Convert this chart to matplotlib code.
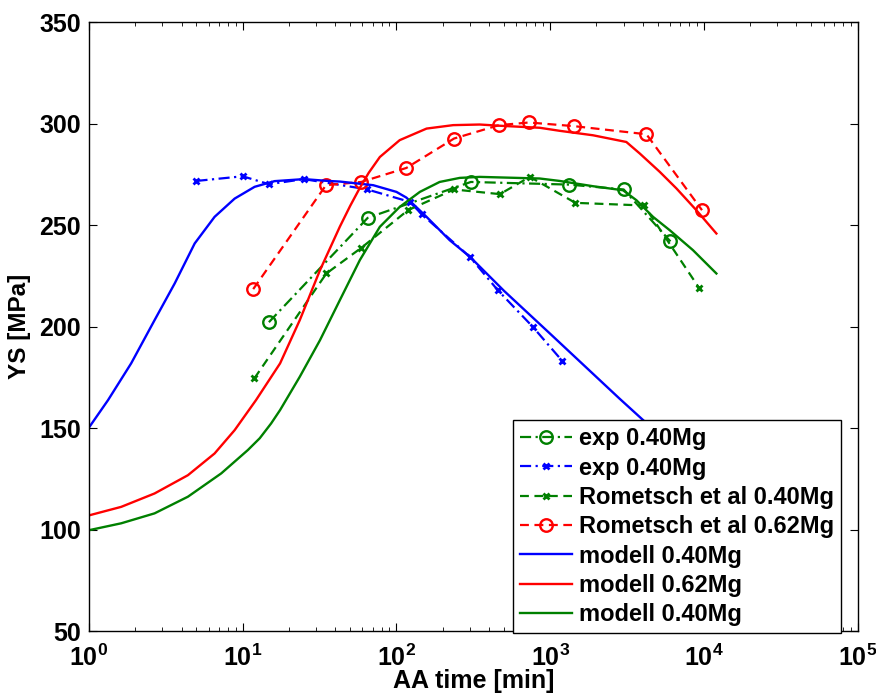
import numpy as np
import matplotlib
matplotlib.use('Agg')
import matplotlib.pyplot as plt

plt.rcParams['font.family'] = ['Liberation Sans', 'DejaVu Sans']
plt.rcParams['font.weight'] = 'bold'
plt.rcParams['mathtext.fontset'] = 'custom'
plt.rcParams['mathtext.rm'] = 'Liberation Sans:bold'
plt.rcParams['mathtext.bf'] = 'Liberation Sans:bold'
plt.rcParams['mathtext.it'] = 'Liberation Sans:bold'

# experimente
exp_gr_t = [14.8, 65, 305, 1327, 3008, 6058]
exp_gr_ys = [202.2, 253.6, 271.3, 270.0, 267.6, 242.0]

exp_bl_t = [5.0, 10, 14.8, 25, 64, 122, 146, 300, 456, 771, 1202]
exp_bl_ys = [271.8, 274.1, 270.2, 272.7, 267.7, 261.5, 255.4, 234.4, 218.0, 199.9, 183.0]

rom40_t = [11.9, 35, 59, 119, 237, 471, 738, 1459, 4080, 9360]
rom40_ys = [174.5, 226.2, 238.8, 257.4, 267.6, 265.3, 273.8, 261.0, 259.7, 218.8]

rom62_t = [11.7, 34.8, 59, 116, 237, 465, 729, 1430, 4230, 9720]
rom62_ys = [218.5, 269.7, 271.3, 278.2, 292.7, 299.3, 300.6, 298.8, 294.8, 257.4]

# modell
mod_bl_t = [1, 1.33, 1.88, 2.67, 3.61, 4.87, 6.56, 8.86, 11.95, 16.1, 25, 35.8,
            42.8, 70.6, 100, 116, 157, 222, 300, 500, 1000, 2830, 6000, 12000]
mod_bl_ys = [150.3, 163.8, 181.9, 203.2, 221.3, 241.0, 254.1, 263.1, 268.9, 271.7,
             272.7, 271.8, 271.5, 269.7, 266.4, 263.6, 254.1, 242.6, 234.5, 217.7,
             196.5, 164.5, 142.0, 120.0]

mod_rd_t = [1, 1.62, 2.67, 4.4, 6.56, 8.86, 12.2, 17.5, 23.5, 31.8, 42.8, 50, 57.8,
            66, 78, 105, 157, 234, 348, 470, 855, 1153, 1900, 3130, 3830, 5160, 6630,
            8930, 12060]
mod_rd_ys = [107.0, 111.2, 117.8, 126.8, 137.5, 149.0, 163.8, 181.9, 203.2, 227.8,
             249.2, 259.5, 268.4, 275.8, 283.6, 291.9, 297.6, 299.3, 299.6, 299.0,
             298.0, 296.5, 294.3, 291.0, 285.3, 276.3, 268.1, 257.4, 245.9]

mod_gr_t = [1, 1.62, 2.67, 4.4, 7.25, 10.8, 12.9, 15.3, 17.5, 23.5, 31.8, 42.8, 57.8,
            78, 105, 142, 191, 258, 348, 855, 1153, 1900, 2980, 3640, 4670, 6000,
            8490, 12060]
mod_gr_ys = [99.7, 103.1, 108.0, 116.2, 127.7, 139.2, 145.0, 152.3, 158.9, 175.3,
             193.3, 213.0, 232.8, 249.2, 259.0, 266.4, 271.3, 273.3, 273.8, 273.0,
             271.8, 269.2, 267.2, 262.3, 254.1, 247.5, 237.7, 226.2]

grn = (0, 0.5, 0)
dashdot = (0, (5, 2, 1, 2))
dashed = (0, (4, 2.5))

fig = plt.figure(figsize=(8.76, 6.95), dpi=100)
ax = fig.add_axes([0.1016, 0.092, 0.8774, 0.876])

ax.plot(exp_gr_t, exp_gr_ys, color=grn, ls=dashdot, lw=1.6, marker='o', ms=9,
        mfc='none', mew=1.7, label='exp 0.40Mg')
ax.plot(exp_bl_t, exp_bl_ys, color='b', ls=dashdot, lw=1.6, marker='x', ms=5,
        mew=2, label='exp 0.40Mg')
ax.plot(rom40_t, rom40_ys, color=grn, ls=dashed, lw=1.6, marker='x', ms=5,
        mew=2, label='Rometsch et al 0.40Mg')
ax.plot(rom62_t, rom62_ys, color='r', ls=dashed, lw=1.6, marker='o', ms=9,
        mfc='none', mew=1.7, label='Rometsch et al 0.62Mg')
ax.plot(mod_bl_t, mod_bl_ys, color='b', lw=1.7, label='modell 0.40Mg')
ax.plot(mod_rd_t, mod_rd_ys, color='r', lw=1.7, label='modell 0.62Mg')
ax.plot(mod_gr_t, mod_gr_ys, color=grn, lw=1.7, label='modell 0.40Mg')

ax.set_xscale('log')
ax.set_xlim(1, 1e5)
ax.set_ylim(50, 350)
ax.set_yticks(np.arange(50, 351, 50))
ax.set_xticks([1, 10, 100, 1e3, 1e4, 1e5])
ax.set_xticklabels([r'$10^{%d}$' % i for i in range(6)])
ax.tick_params(which='both', direction='in', top=True, right=True)
ax.tick_params(which='major', length=6, labelsize=18)
ax.tick_params(axis='x', which='major', pad=10)
ax.tick_params(axis='y', which='major', pad=6)
ax.tick_params(which='minor', length=3)
for sp in ax.spines.values():
    sp.set_linewidth(1.0)

ax.set_xlabel('AA time [min]', fontsize=18, fontweight='bold', labelpad=-2)
ax.set_ylabel('YS [MPa]', fontsize=17.5, fontweight='bold', labelpad=6)

leg = ax.legend(loc='lower left', bbox_to_anchor=(0.551, -0.004, 0.428, 0.359),
                mode='expand', fontsize=17, handlelength=2.2, handletextpad=0.3,
                labelspacing=0.27, borderpad=0.3, borderaxespad=0,
                fancybox=False, framealpha=1, edgecolor='k')
leg.get_frame().set_linewidth(1.0)

fig.savefig('out.png', dpi=100)
